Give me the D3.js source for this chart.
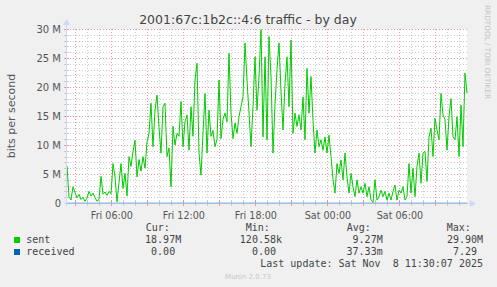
<!DOCTYPE html>
<html><head><meta charset="utf-8">
<script src="https://cdn.jsdelivr.net/npm/d3@7"></script>
<style>body{margin:0;background:#F0F0F0;overflow:hidden}</style>
</head><body><svg id="c" width="497" height="287"></svg>
<script>
// ---------- data ----------
const title = "2001:67c:1b2c::4:6 traffic - by day";
const yLabel = "bits per second";
const sideText = "RRDTOOL / TOBI OETIKER";
const footer = "Munin 2.0.73";
const startTime = new Date(2025, 10, 7, 2, 18);   // Fri 02:18
const endTime = new Date(2025, 10, 8, 11, 38);    // Sat 11:38
const stepMinutes = 10;
// sent, in Mbit/s, one value per 10 minutes
const sentM = [
  6.4, 1.0, 0.5, 2.8, 1.8, 0.9, 1.5, 0.6, 1.0, 0.3,
  0.8, 2.0, 1.2, 1.7, 0.9, 0.3, 0.6, 4.6, 1.5, 1.9,
  1.3, 2.0, 1.6, 6.8, 4.5, 0.2, 3.5, 6.8, 2.5, 5.1,
  1.2, 8.0, 6.3, 8.9, 10.8, 4.5, 7.5, 5.5, 8.0, 6.0,
  10.5, 12.0, 17.2, 9.7, 16.0, 18.6, 13.0, 8.6, 16.6, 17.2,
  8.0, 9.5, 2.8,
  13.2, 10.0, 12.0, 11.5, 17.5, 9.7, 14.0, 15.2, 9.1, 16.6,
  11.5, 21.2, 24.1, 8.6, 4.8, 12.0, 18.9, 8.6, 16.0, 11.5,
  12.5, 9.7, 11.0, 21.2, 11.1, 14.4, 15.5, 14.0, 25.8, 15.5,
  11.1, 13.8, 12.0, 14.9,
  16.6, 18.3, 27.6, 21.2, 15.5, 9.7, 16.6, 25.2, 16.0, 21.8,
  29.9, 11.4, 25.2, 10.9, 28.7, 21.8, 8.6,
  17.0, 23.0, 27.6, 19.3, 12.6, 20.6, 25.2, 16.6, 28.1, 12.0,
  15.5, 13.2, 15.2, 12.6, 18.3, 10.9, 23.2, 15.5, 21.8, 14.2,
  8.6,
  12.6, 9.7, 10.9, 9.1, 11.4, 8.6, 11.7, 8.0, 4.0, 1.7,
  6.8, 5.1, 7.4, 4.0, 8.6, 4.5, 1.7, 5.1, 2.8, 1.1,
  4.0, 1.7, 2.8, 1.7, 3.4, 1.1, 2.8, 0.5, 0.12, 4.0,
  0.5, 1.1, 2.2, 1.1, 2.0, 0.5, 1.7, 0.5, 2.0, 3.1,
  0.5, 2.2, 1.7, 2.8, 0.5, 1.1, 6.8, 1.7, 6.0, 1.1,
  6.3, 8.6, 3.4, 8.6, 8.9, 3.7, 11.4, 12.9, 8.0, 14.6,
  12.6, 10.9, 18.9, 15.2, 14.4, 9.1, 14.9, 18.0, 11.4, 10.9,
  14.9, 8.0, 16.9, 9.7, 22.4, 18.97
];
// received, bits/s (effectively zero)
const receivedStart = 0, receivedEnd = 0;
const yTickValuesM = [0, 5, 10, 15, 20, 25, 30];
const legendHeaders = ["Cur:", "Min:", "Avg:", "Max:"];
const seriesNames = ["sent", "received"];
const seriesColors = ["#00CC00", "#0066B3"];
const sentStats = ["18.97M", "120.58k", "9.27M", "29.90M"];
const receivedStats = ["0.00", "0.00", "37.33m", "7.29"];
const lastUpdate = "Last update: Sat Nov  8 11:30:07 2025";

// ---------- layout ----------
const svg = d3.select("#c");
const L = 67, R = 467, T = 29, B = 203;
const x = d3.scaleTime().domain([startTime, endTime]).range([L, R]);
const y = d3.scaleLinear().domain([0, 30e6]).range([B, T]);
const sans = "DejaVu Sans, Verdana, sans-serif";
const mono = "DejaVu Sans Mono, monospace";

svg.append("rect").attr("width", 497).attr("height", 287).attr("fill", "#F0F0F0");
svg.append("rect").attr("x", L).attr("y", T).attr("width", R - L).attr("height", B - T).attr("fill", "#FFFFFF");

const minorCol = "#cccccc", majorCol = "#e89a9a";
const dash = "1,2";
const g = svg.append("g");
// horizontal grid
d3.range(1, 31).forEach(m => {
  const yy = Math.round(y(m * 1e6)) + 0.5;
  g.append("line").attr("x1", L).attr("x2", R).attr("y1", yy).attr("y2", yy)
    .attr("stroke", m % 5 === 0 ? majorCol : minorCol).attr("stroke-dasharray", dash);
  g.append("line").attr("x1", L - 3).attr("x2", L + 2).attr("y1", yy).attr("y2", yy)
    .attr("stroke", m % 5 === 0 ? majorCol : minorCol);
});
// vertical grid
const hours = d3.timeHour.every(1).range(startTime, endTime);
hours.forEach(h => {
  const xx = Math.round(x(h)) + 0.5;
  const major = h.getHours() % 3 === 0;
  g.append("line").attr("x1", xx).attr("x2", xx).attr("y1", T).attr("y2", B)
    .attr("stroke", major ? majorCol : minorCol).attr("stroke-dasharray", dash);
  g.append("line").attr("x1", xx).attr("x2", xx).attr("y1", B - 2).attr("y2", B + 3)
    .attr("stroke", major ? majorCol : minorCol);
});

// axes labels
const yAxis = d3.axisLeft(y).tickValues(yTickValuesM.map(v => v * 1e6))
  .tickFormat(v => v === 0 ? "0" : (v / 1e6) + " M").tickSize(0).tickPadding(6);
const ya = svg.append("g").attr("transform", `translate(${L},0)`).call(yAxis);
ya.select(".domain").remove();
ya.selectAll("text").attr("font-family", sans).attr("font-size", 10).attr("fill", "#555").attr("dy", "0.36em");

const labelTicks = d3.timeHour.every(6).range(startTime, endTime);
const xAxis = d3.axisBottom(x).tickValues(labelTicks).tickFormat(d3.timeFormat("%a %H:%M")).tickSize(0).tickPadding(9);
const xa = svg.append("g").attr("transform", `translate(0,${B})`).call(xAxis);
xa.select(".domain").remove();
xa.selectAll("text").attr("font-family", sans).attr("font-size", 9.6).attr("fill", "#555");

// series
const sentData = sentM.map((v, i) => ({ t: d3.timeMinute.offset(startTime, i * stepMinutes), v: v * 1e6 }));
const line = d3.line().x(d => x(d.t)).y(d => y(d.v));
svg.append("path").datum(sentData).attr("d", line).attr("fill", "none")
  .attr("stroke", seriesColors[0]).attr("stroke-width", 1).attr("stroke-linejoin", "miter");

// axis lines + arrows
const axisCol = "#CFD6F8";
svg.append("line").attr("x1", L - 0.5).attr("x2", L - 0.5).attr("y1", B + 3).attr("y2", T - 6).attr("stroke", axisCol);
svg.append("line").attr("x1", L - 3).attr("x2", R + 4).attr("y1", B + 0.5).attr("y2", B + 0.5).attr("stroke", axisCol);
svg.append("path").attr("d", `M${L - 4},${T - 4} L${L + 3},${T - 4} L${L - 0.5},${T - 10} Z`).attr("fill", axisCol);
svg.append("path").attr("d", `M${R + 3},${B - 3} L${R + 3},${B + 4} L${R + 9},${B + 0.5} Z`).attr("fill", axisCol);
// received line at zero
const recData = [{ t: startTime, v: receivedStart }, { t: endTime, v: receivedEnd }];
svg.append("path").datum(recData).attr("d", line).attr("fill", "none")
  .attr("stroke", seriesColors[1]).attr("stroke-opacity", 0.45).attr("stroke-width", 1);

// title & labels
svg.append("text").attr("x", 248).attr("y", 24).attr("text-anchor", "middle")
  .attr("font-family", sans).attr("font-size", 12.5).attr("fill", "#444").text(title);
svg.append("text").attr("transform", `translate(15,${(T + B) / 2}) rotate(-90)`).attr("text-anchor", "middle")
  .attr("font-family", sans).attr("font-size", 11).attr("fill", "#555").text(yLabel);
svg.append("text").attr("transform", "translate(484.5,5) rotate(90)")
  .attr("font-family", sans).attr("font-size", 7.3).attr("fill", "#c4c4c4").text(sideText);
svg.append("text").attr("x", 248).attr("y", 279).attr("text-anchor", "middle")
  .attr("font-family", sans).attr("font-size", 7).attr("fill", "#c8c8c8").text(footer);

// legend
const lg = svg.append("g").attr("font-family", mono).attr("font-size", 10).attr("fill", "#444");
const headerX = [145.7, 245.7, 346.7, 446.7];
const colEnd = [181.2, 282, 382.7, 483];
legendHeaders.forEach((h, i) => lg.append("text").attr("x", headerX[i]).attr("y", 231).text(h));
[sentStats, receivedStats].forEach((row, r) => {
  const yy = 243 + r * 12;
  lg.append("rect").attr("x", 14).attr("y", yy - 6).attr("width", 6).attr("height", 6).attr("fill", seriesColors[r]);
  lg.append("text").attr("x", 26.3).attr("y", yy).text(seriesNames[r]);
  row.forEach((s, i) => {
    const hasUnit = /[a-zA-Z]$/.test(s);
    lg.append("text").attr("x", colEnd[i] - (hasUnit ? 0 : 6.02)).attr("y", yy)
      .attr("text-anchor", "end").text(s);
  });
});
lg.append("text").attr("x", 483).attr("y", 267).attr("text-anchor", "end")
  .attr("xml:space", "preserve").style("white-space", "pre").text(lastUpdate);
</script></body></html>
